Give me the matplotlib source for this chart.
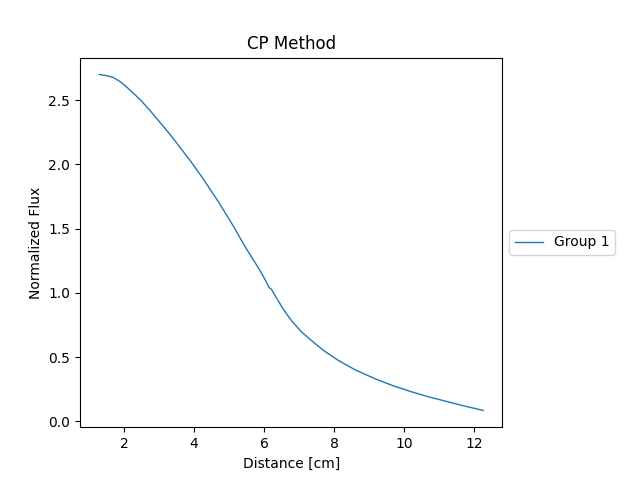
"""Normalized flux profile from the CP method (group 1)."""

import matplotlib
matplotlib.use("Agg")
import matplotlib.pyplot as plt

# ---------------------------------------------------------------------------
# Data
# ---------------------------------------------------------------------------

distance = [1.29, 1.50, 1.70, 1.91, 2.10, 2.30, 2.49, 2.80, 3.06, 3.35,
            3.63, 3.91, 4.20, 4.69, 5.14, 5.43, 5.91, 6.05, 6.14, 6.20,
            6.34, 6.55, 6.77, 7.05, 7.34, 7.70, 8.11, 8.60, 9.20, 9.70,
            10.20, 10.70, 11.20, 11.70, 12.25]
flux_g1 = [2.70, 2.69, 2.675, 2.64, 2.595, 2.545, 2.495, 2.40, 2.315, 2.22,
           2.12, 2.02, 1.91, 1.71, 1.51, 1.37, 1.16, 1.09, 1.04, 1.03,
           0.965, 0.87, 0.786, 0.70, 0.63, 0.55, 0.475, 0.40, 0.327, 0.275,
           0.23, 0.19, 0.155, 0.12, 0.085]

# ---------------------------------------------------------------------------
# Plot
# ---------------------------------------------------------------------------

fig, ax = plt.subplots(figsize=(6.4, 4.8), dpi=100)
ax.plot(distance, flux_g1, linewidth=1, label="Group 1")
ax.set_title("CP Method")
ax.set_xlabel("Distance [cm]")
ax.set_ylabel("Normalized Flux")
ax.legend(loc="center left", bbox_to_anchor=(1, 0.5))

fig.subplots_adjust(right=0.785)
fig.savefig("out.png", dpi=100)
plt.close(fig)
